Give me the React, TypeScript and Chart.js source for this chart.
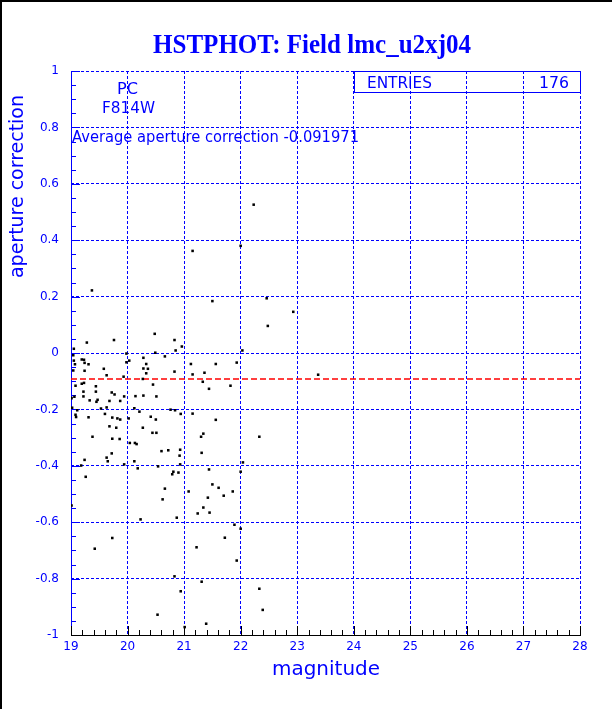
import { useEffect, useRef } from "react";
import { Chart, registerables } from "chart.js";

Chart.register(...registerables);

const TITLE = "HSTPHOT: Field lmc_u2xj04";
const X_TITLE = "magnitude";
const Y_TITLE = "aperture correction";
const CAMERA = "PC";
const FILTER = "F814W";
const AVG_LABEL = "Average aperture correction ";
const AVG_CORRECTION = -0.091971;
const ENTRIES_LABEL = "ENTRIES";
const ENTRIES = 176;

const X_MIN = 19;
const X_MAX = 28;
const Y_MIN = -1;
const Y_MAX = 1;

const magnitude = [
  19.37, 20.48, 22.23, 21.15, 22.0, 21.5, 22.46, 22.93, 22.48, 19.28,
  19.76, 19.05, 20.83, 20.96, 20.85, 20.49, 19.98, 19.04, 20.66, 20.28,
  19.19, 19.23, 19.05, 19.24, 19.31, 19.07, 20.03, 19.98, 20.33, 19.58,
  20.28, 20.36, 19.04, 19.24, 20.33, 20.83, 19.63, 19.93, 20.27, 19.19,
  19.23, 20.45, 19.08, 19.44, 19.22, 19.44, 19.72, 19.77, 20.14, 20.28,
  20.51, 19.06, 19.01, 19.22, 19.47, 19.33, 19.45, 19.68, 19.87, 19.94,
  19.63, 19.53, 19.02, 19.11, 20.12, 20.21, 20.76, 20.84, 19.08, 19.09,
  19.31, 19.6, 19.73, 19.82, 19.87, 20.02, 20.41, 20.5, 19.68, 19.8,
  20.27, 20.44, 20.51, 19.38, 19.73, 19.86, 22.03, 21.12, 21.56, 21.93,
  21.15, 21.36, 21.33, 21.44, 21.82, 20.94, 21.15, 21.56, 21.34, 21.3,
  22.33, 20.04, 20.13, 20.16, 20.6, 20.72, 20.93, 19.72, 20.92, 19.24,
  19.63, 19.65, 20.12, 19.94, 20.93, 19.18, 20.54, 20.18, 20.81, 20.79,
  20.9, 19.26, 20.66, 20.62, 19.01, 20.87, 20.23, 19.73, 21.31, 22.04,
  21.44, 22.0, 21.5, 21.61, 21.08, 21.86, 21.7, 21.42, 21.34, 21.24,
  21.45, 21.89, 22.0, 21.72, 19.42, 20.83, 20.94, 20.53, 21.01, 21.22,
  21.93, 21.31, 22.33, 22.39, 21.39, 23.37,
];

const apCorr = [
  0.222, 0.068, 0.526, 0.362, 0.38, 0.184, 0.194, 0.146, 0.096, 0.037,
  0.046, 0.015, 0.046, 0.023, 0.009, 0.001, -0.002, -0.008, -0.012, -0.017,
  -0.023, -0.024, -0.027, -0.035, -0.04, -0.04, -0.027, -0.033, -0.039, -0.056,
  -0.055, -0.056, -0.062, -0.063, -0.072, -0.066, -0.079, -0.084, -0.092, -0.109,
  -0.106, -0.112, -0.116, -0.118, -0.137, -0.137, -0.14, -0.147, -0.153, -0.151,
  -0.154, -0.155, -0.16, -0.154, -0.166, -0.168, -0.173, -0.17, -0.17, -0.154,
  -0.193, -0.197, -0.194, -0.203, -0.196, -0.208, -0.201, -0.203, -0.219, -0.227,
  -0.228, -0.216, -0.229, -0.232, -0.236, -0.232, -0.226, -0.236, -0.26, -0.265,
  -0.265, -0.283, -0.283, -0.297, -0.304, -0.305, 0.009, -0.039, -0.039, -0.034,
  -0.076, -0.07, -0.102, -0.127, -0.116, -0.216, -0.215, -0.237, -0.286, -0.297,
  -0.297, -0.319, -0.319, -0.323, -0.348, -0.345, -0.343, -0.356, -0.364, -0.379,
  -0.371, -0.384, -0.384, -0.395, -0.395, -0.399, -0.402, -0.409, -0.421, -0.43,
  -0.424, -0.439, -0.481, -0.519, -0.541, -0.584, -0.59, -0.656, -0.354, -0.388,
  -0.413, -0.421, -0.466, -0.478, -0.491, -0.491, -0.506, -0.513, -0.548, -0.569,
  -0.566, -0.609, -0.623, -0.655, -0.694, -0.792, -0.845, -0.928, -0.972, -0.689,
  -0.736, -0.811, -0.836, -0.911, -0.96, -0.077,
];

const BLUE = "#0000ff";
const SANS = "'DejaVu Sans', sans-serif";

function fitText(
  ctx: CanvasRenderingContext2D,
  text: string,
  x: number,
  y: number,
  width: number,
  font: string,
  align: CanvasTextAlign,
  color: string
) {
  ctx.save();
  ctx.font = font;
  const w = ctx.measureText(text).width;
  const s = width / w;
  ctx.translate(x, y);
  ctx.scale(s, 1);
  ctx.textAlign = align;
  ctx.textBaseline = "alphabetic";
  ctx.fillStyle = color;
  ctx.fillText(text, 0, 0);
  ctx.restore();
}

const fmtNum = (v: number) => {
  const r = Math.round(v * 10) / 10;
  if (r === 0) return "0";
  return String(r);
};

const overlay = {
  id: "rootOverlay",
  beforeDatasetsDraw(chart: any) {
    const ctx: CanvasRenderingContext2D = chart.ctx;
    const xs = chart.scales.x;
    const ys = chart.scales.y;
    const { left, right, top, bottom } = chart.chartArea;
    ctx.save();
    ctx.strokeStyle = BLUE;
    ctx.lineWidth = 1;
    ctx.beginPath();
    ctx.moveTo(Math.round(left) + 0.5, top);
    ctx.lineTo(Math.round(left) + 0.5, bottom);
    ctx.stroke();
    for (let i = 0; i <= 40; i++) {
      const v = Y_MIN + i * 0.05;
      const py = Math.round(ys.getPixelForValue(v)) + 0.5;
      const len = i % 4 === 0 ? 9 : 5;
      ctx.beginPath();
      ctx.moveTo(left, py);
      ctx.lineTo(left + len, py);
      ctx.stroke();
    }
    ctx.strokeStyle = "#000";
    ctx.beginPath();
    ctx.moveTo(left, Math.round(bottom) + 0.5);
    ctx.lineTo(right + 1, Math.round(bottom) + 0.5);
    ctx.stroke();
    for (let i = 0; i <= 45; i++) {
      const v = X_MIN + i * 0.2;
      const px = Math.round(xs.getPixelForValue(v)) + 0.5;
      const len = i % 5 === 0 ? 9 : 5;
      ctx.beginPath();
      ctx.moveTo(px, bottom);
      ctx.lineTo(px, bottom - len);
      ctx.stroke();
    }
    ctx.restore();
  },
  afterDraw(chart: any) {
    const ctx: CanvasRenderingContext2D = chart.ctx;
    const xs = chart.scales.x;
    ctx.save();
    ctx.fillStyle = "#000";
    ctx.fillRect(0, 0, 612, 2);
    ctx.fillRect(0, 0, 2, 709);

    fitText(ctx, TITLE, 153, 53, 318, `bold 28px 'Liberation Serif', serif`, "left", BLUE);

    fitText(ctx, CAMERA, 117, 94, 21, `16px ${SANS}`, "left", BLUE);
    fitText(ctx, FILTER, 102, 113, 53, `16px ${SANS}`, "left", BLUE);
    fitText(ctx, AVG_LABEL + AVG_CORRECTION, 72, 142, 287, `15px ${SANS}`, "left", BLUE);

    const bx = Math.round(xs.getPixelForValue(24)) + 0.5;
    const br = Math.round(xs.getPixelForValue(X_MAX)) + 0.5;
    ctx.strokeStyle = BLUE;
    ctx.lineWidth = 1;
    ctx.strokeRect(bx, 71.5, br - bx, 21);
    fitText(ctx, ENTRIES_LABEL, 367, 88, 65, `15px ${SANS}`, "left", BLUE);
    fitText(ctx, String(ENTRIES), 539, 88, 30, `15px ${SANS}`, "left", BLUE);

    fitText(ctx, X_TITLE, 272, 675, 108, `20px ${SANS}`, "left", BLUE);
    ctx.save();
    ctx.translate(23, 278);
    ctx.rotate(-Math.PI / 2);
    fitText(ctx, Y_TITLE, 0, 0, 183, `19px ${SANS}`, "left", BLUE);
    ctx.restore();
    ctx.restore();
  },
};

export default function App() {
  const ref = useRef<HTMLCanvasElement | null>(null);

  useEffect(() => {
    const canvas = ref.current;
    if (!canvas) return;
    const points = magnitude.map((m, i) => ({ x: m, y: apCorr[i] }));
    const avgLine = [
      { x: X_MIN, y: AVG_CORRECTION },
      { x: X_MAX, y: AVG_CORRECTION },
    ];
    const chart = new Chart(canvas, {
      type: "scatter",
      data: {
        datasets: [
          {
            type: "line",
            data: avgLine,
            borderColor: "#ff0000",
            borderWidth: 1.6,
            borderDash: [6, 3],
            pointRadius: 0,
            showLine: true,
            fill: false,
            order: 2,
          } as any,
          {
            data: points,
            pointStyle: "rect",
            pointRadius: 1.8,
            backgroundColor: "#000",
            borderWidth: 0,
            order: 1,
          } as any,
        ],
      },
      options: {
        responsive: false,
        devicePixelRatio: 1,
        animation: false,
        layout: { padding: { top: 71, right: 32, left: 0, bottom: 0 } },
        plugins: {
          legend: { display: false },
          tooltip: { enabled: false },
          title: { display: false },
        },
        scales: {
          x: {
            type: "linear",
            min: X_MIN,
            max: X_MAX,
            afterFit: (s: any) => {
              s.height = 74;
            },
            ticks: {
              stepSize: 1,
              color: BLUE,
              padding: 5,
              font: { family: "DejaVu Sans", size: 12 },
              callback: (v: any) => String(v),
            },
            grid: { color: BLUE, lineWidth: 1, drawTicks: false },
            border: { display: false, dash: [3, 2] },
          },
          y: {
            type: "linear",
            min: Y_MIN,
            max: Y_MAX,
            afterFit: (s: any) => {
              s.width = 71;
            },
            ticks: {
              stepSize: 0.2,
              color: BLUE,
              padding: 12,
              font: { family: "DejaVu Sans", size: 12 },
              callback: (v: any) => fmtNum(Number(v)),
            },
            grid: { color: BLUE, lineWidth: 1, drawTicks: false },
            border: { display: false, dash: [3, 2] },
          },
        },
      },
      plugins: [overlay],
    });
    return () => chart.destroy();
  }, []);

  return (
    <canvas
      ref={ref}
      width={612}
      height={709}
      style={{ position: "absolute", left: 0, top: 0, display: "block" }}
    />
  );
}
